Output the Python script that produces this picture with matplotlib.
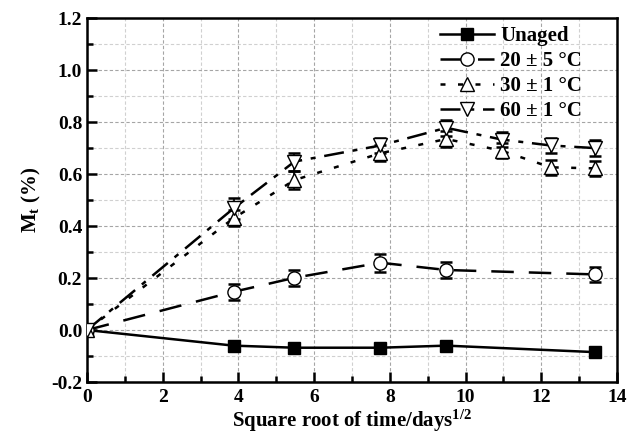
import matplotlib
matplotlib.use("Agg")
import matplotlib.pyplot as plt
from matplotlib.ticker import MultipleLocator

plt.rcParams['font.family'] = ['Liberation Serif', 'DejaVu Serif']
plt.rcParams['font.weight'] = 'bold'
plt.rcParams['mathtext.fontset'] = 'custom'
plt.rcParams['mathtext.rm'] = 'Liberation Serif:bold'
plt.rcParams['mathtext.bf'] = 'Liberation Serif:bold'
plt.rcParams['mathtext.it'] = 'Liberation Serif:bold'

# Data
x_unaged = [0, 3.87, 5.48, 7.75, 9.49, 13.42]
y_unaged = [0, -0.06, -0.068, -0.068, -0.06, -0.085]

x_20 = [0, 3.87, 5.48, 7.75, 9.49, 13.42]
y_20 = [0, 0.147, 0.201, 0.259, 0.231, 0.214]
e_20 = [0, 0.03, 0.03, 0.035, 0.03, 0.03]

x_30 = [0, 3.87, 5.48, 7.75, 9.49, 10.95, 12.25, 13.42]
y_30 = [0, 0.43, 0.577, 0.68, 0.735, 0.69, 0.626, 0.622]
e_30 = [0, 0.03, 0.035, 0.03, 0.03, 0.03, 0.03, 0.03]

x_60 = [0, 3.87, 5.48, 7.75, 9.49, 10.95, 12.25, 13.42]
y_60 = [0, 0.468, 0.648, 0.71, 0.778, 0.733, 0.71, 0.70]
e_60 = [0, 0.04, 0.035, 0.03, 0.03, 0.03, 0.03, 0.03]

labels = ['Unaged', '20 ± 5 °C', '30 ± 1 °C', '60 ± 1 °C']

fig = plt.figure(figsize=(6.27, 4.42), dpi=100)
ax = fig.add_axes([0.1388, 0.1357, 0.8452, 0.8233])

ekw = dict(ecolor='black', elinewidth=1.2, capsize=4, capthick=1.8)

ax.plot(x_unaged, y_unaged, '-', color='black', lw=1.8, marker='s', ms=8,
        mfc='black', mec='black', label=labels[0], zorder=4)
ax.errorbar(x_20, y_20, yerr=e_20, fmt='none', **ekw, zorder=3)
ax.plot(x_20, y_20, color='black', lw=1.8, dashes=(9, 6), marker='o', ms=9.5,
        mfc='white', mec='black', mew=1.0, label=labels[1], zorder=4)
ax.errorbar(x_30, y_30, yerr=e_30, fmt='none', **ekw, zorder=3)
ax.plot(x_30, y_30, color='black', lw=1.8, dashes=(2, 5), marker='^', ms=10.5,
        mfc='white', mec='black', mew=1.0, label=labels[2], zorder=4)
ax.errorbar(x_60, y_60, yerr=e_60, fmt='none', **ekw, zorder=3)
ax.plot(x_60, y_60, color='black', lw=1.8, dashes=(8, 3.5, 2, 3.5), marker='v', ms=10.5,
        mfc='white', mec='black', mew=1.0, label=labels[3], zorder=4)

ax.set_xlim(0, 14)
ax.set_ylim(-0.2, 1.2)
ax.xaxis.set_major_locator(MultipleLocator(2))
ax.xaxis.set_minor_locator(MultipleLocator(1))
ax.yaxis.set_major_locator(MultipleLocator(0.2))
ax.yaxis.set_minor_locator(MultipleLocator(0.1))
ax.yaxis.set_major_formatter(plt.FuncFormatter(lambda v, p: f"{v:.1f}"))

ax.grid(which='major', color='#a5a5a5', ls=(0, (3, 2)), lw=0.8)
ax.grid(which='minor', color='#d0d0d0', ls=(0, (3, 2)), lw=0.8)
ax.set_axisbelow(True)

for s in ax.spines.values():
    s.set_linewidth(1.8)
ax.tick_params(which='both', direction='in', top=False, right=False,
               width=1.8, labelsize=14)
ax.tick_params(which='major', length=7)
ax.tick_params(which='minor', length=4)
ax.tick_params(axis='x', pad=5)
for t in ax.get_xticklabels() + ax.get_yticklabels():
    t.set_fontweight('bold')

ax.set_xlabel(r'Square root of time/days$^{\mathbf{1/2}}$', fontsize=15, fontweight='bold', labelpad=1)
ax.set_ylabel(r'M$_{\mathbf{t}}$ (%)', fontsize=15, fontweight='bold', labelpad=6)

leg = ax.legend(loc='upper right', frameon=False, handlelength=2.6,
                borderaxespad=0.0, borderpad=0.4, labelspacing=0.24, handletextpad=0.3,
                bbox_to_anchor=(0.95, 1.0),
                prop={'weight': 'bold', 'size': 15})

fig.savefig('out.png', dpi=100)
